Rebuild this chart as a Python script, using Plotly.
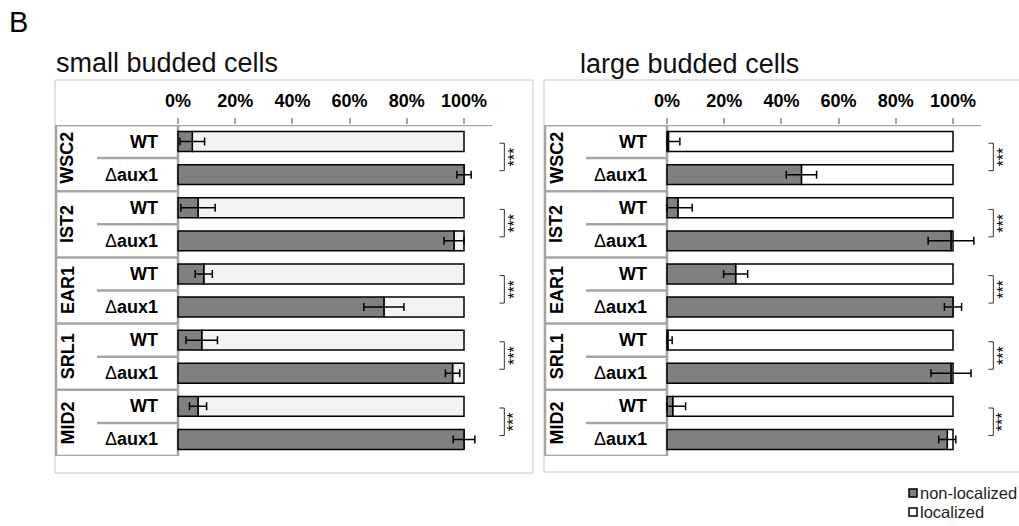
import plotly.graph_objects as go

# ---- data -------------------------------------------------------------
genes = ["WSC2", "IST2", "EAR1", "SRL1", "MID2"]
strains = ["WT", "Δaux1"]

# % non-localized per row (gene x strain, WT first), with error (SD)
small_nonloc = [5, 100, 7, 96.5, 9, 72, 8.3, 96, 7, 100]
small_err = [4.3, 2.5, 6, 3.5, 3, 7, 5.5, 2.5, 3, 3.8]
large_nonloc = [0.5, 47, 3.8, 99.3, 24, 100, 0.3, 99.3, 2, 98]
large_err = [4, 5.3, 5, 8, 4.2, 3, 1.5, 7, 4.5, 3]

tick_vals = [0, 20, 40, 60, 80, 100]
tick_text = ["0%", "20%", "40%", "60%", "80%", "100%"]
significance = ["***"] * len(genes)

panel_titles = ["small budded cells", "large budded cells"]
legend_labels = ["non-localized", "localized"]

# ---- layout helpers ---------------------------------------------------
W, H = 1019, 526
FONT = "Liberation Sans, Arial, sans-serif"
DARK = "#808080"
GRID = "#a5a5a5"


def px(x):
    return x / W


def py(y):
    return 1 - y / H


rows = list(range(len(genes) * len(strains)))

fig = go.Figure()

panels = [
    dict(xa="x", ya="y", vals=small_nonloc, err=small_err, loc_color="#f2f2f2",
         dom=(55, 521), zero=178, title_x=54, title_y=63),
    dict(xa="x2", ya="y2", vals=large_nonloc, err=large_err, loc_color="#ffffff",
         dom=(544, 1019), zero=667, title_x=578, title_y=64),
]
scale = 2.86  # pixels per percent

shapes = []
annotations = []

for i, p in enumerate(panels):
    vals, err = p["vals"], p["err"]
    loc = [100 - v for v in vals]
    # error bars stop at the 0% edge of the plot area
    err_minus = [min(e, v) for e, v in zip(err, vals)]
    # localized part (drawn first, starts where non-localized ends)
    fig.add_trace(go.Bar(
        y=rows, x=loc, base=vals, orientation="h", width=0.6,
        marker=dict(color=p["loc_color"], line=dict(color="black", width=1.5)),
        xaxis=p["xa"], yaxis=p["ya"], showlegend=False, name=legend_labels[1],
    ))
    # non-localized part with error bars on top
    fig.add_trace(go.Bar(
        y=rows, x=vals, orientation="h", width=0.6,
        marker=dict(color=DARK, line=dict(color="black", width=1.5)),
        error_x=dict(type="data", array=err, arrayminus=err_minus, symmetric=False,
                     color="black", thickness=1.5, width=4),
        xaxis=p["xa"], yaxis=p["ya"], showlegend=False, name=legend_labels[0],
    ))

    x0 = (p["dom"][0] - p["zero"]) / scale
    x1 = (p["dom"][1] - p["zero"]) / scale
    xr, yr = p["xa"], p["ya"]

    # axis line along the top of the table
    shapes.append(dict(type="line", xref=xr, yref=yr, x0=x0, x1=314 / scale,
                       y0=-0.5, y1=-0.5, line=dict(color=GRID, width=2.5), layer="above"))

    # row-label table
    sub_x = (97 - 178) / scale
    for g in range(len(genes) + 1):
        shapes.append(dict(type="line", xref=xr, yref=yr, x0=x0, x1=0,
                           y0=2 * g - 0.5, y1=2 * g - 0.5,
                           line=dict(color=GRID, width=2.5), layer="below"))
    for g in range(len(genes)):
        shapes.append(dict(type="line", xref=xr, yref=yr, x0=sub_x, x1=0,
                           y0=2 * g + 0.5, y1=2 * g + 0.5,
                           line=dict(color=GRID, width=2.5), layer="below"))
    for xv in (x0 + 0.35, 0):
        shapes.append(dict(type="line", xref=xr, yref=yr, x0=xv, x1=xv,
                           y0=-0.5, y1=9.5, line=dict(color=GRID, width=2.5), layer="below"))

    # labels
    for g, gene in enumerate(genes):
        annotations.append(dict(xref=xr, yref=yr, x=-38.6, y=2 * g + 0.5, text=f"<b>{gene}</b>",
                                textangle=-90, showarrow=False,
                                font=dict(family=FONT, size=18, color="black")))
        for s, strain in enumerate(strains):
            label = "<b>WT</b>" if strain == "WT" else "Δ<b>aux1</b>"
            annotations.append(dict(xref=xr, yref=yr, x=-6.4, y=2 * g + s, text=label,
                                    xanchor="right", showarrow=False,
                                    font=dict(family=FONT, size=18, color="black")))
        # significance bracket
        bx0, bx1 = 112.4, 114.1
        ya_, yb_ = 2 * g + 0.05, 2 * g + 0.88
        shapes.append(dict(type="path", xref=xr, yref=yr,
                           path=f"M{bx0},{ya_} L{bx1},{ya_} L{bx1},{yb_} L{bx0},{yb_}",
                           line=dict(color="#333", width=1)))
        annotations.append(dict(xref=xr, yref=yr, x=117.6, y=2 * g + 0.47, text=significance[g],
                                textangle=-90, showarrow=False,
                                font=dict(family=FONT, size=16, color="black")))

    # panel frame and title
    right = p["dom"][1] + 12 if i == 1 else 533
    bottom = 472 if i == 1 else 473
    shapes.append(dict(type="rect", xref="paper", yref="paper",
                       x0=px(p["dom"][0]), x1=px(right), y0=py(bottom), y1=py(80),
                       line=dict(color="#c8c8c8", width=1), layer="below"))
    annotations.append(dict(xref="paper", yref="paper", x=px(p["title_x"]), y=py(p["title_y"]),
                            text=panel_titles[i], xanchor="left", yanchor="middle",
                            showarrow=False, font=dict(family=FONT, size=27, color="#111")))

    axis_common = dict(
        side="top", tickvals=tick_vals, ticktext=tick_text, ticks="outside",
        ticklen=6, tickwidth=2, tickcolor=GRID, showgrid=False, zeroline=False,
        showline=False, ticklabelstandoff=4,
        tickfont=dict(family=FONT, size=18, color="black", weight="bold"),
        range=[x0, x1], domain=[px(p["dom"][0]), px(p["dom"][1])], fixedrange=True,
    )
    yaxis_common = dict(range=[9.5, -0.5], domain=[py(456), py(125)], showticklabels=False,
                        showgrid=False, zeroline=False, ticks="", fixedrange=True)
    if i == 0:
        fig.update_layout(xaxis=dict(anchor="y", **axis_common), yaxis=dict(anchor="x", **yaxis_common))
    else:
        fig.update_layout(xaxis2=dict(anchor="y2", **axis_common), yaxis2=dict(anchor="x2", **yaxis_common))

# panel letter
annotations.append(dict(xref="paper", yref="paper", x=px(7), y=py(22), text="B",
                        xanchor="left", yanchor="middle", showarrow=False,
                        font=dict(family=FONT, size=29, color="black")))

# legend
for k, (lab, col, yc) in enumerate(zip(legend_labels, [DARK, "white"], [493, 512])):
    shapes.append(dict(type="rect", xref="paper", yref="paper",
                       x0=px(909), x1=px(917), y0=py(yc + 4), y1=py(yc - 4),
                       fillcolor=col, line=dict(color="black", width=1.5)))
    annotations.append(dict(xref="paper", yref="paper", x=px(918), y=py(yc), text=lab,
                            xanchor="left", yanchor="middle", showarrow=False,
                            font=dict(family=FONT, size=16.5, color="#222")))

fig.update_layout(
    width=W, height=H, margin=dict(l=0, r=0, t=0, b=0),
    paper_bgcolor="white", plot_bgcolor="white",
    barmode="overlay", showlegend=False,
    shapes=shapes, annotations=annotations,
)

fig.write_html("out.html")
